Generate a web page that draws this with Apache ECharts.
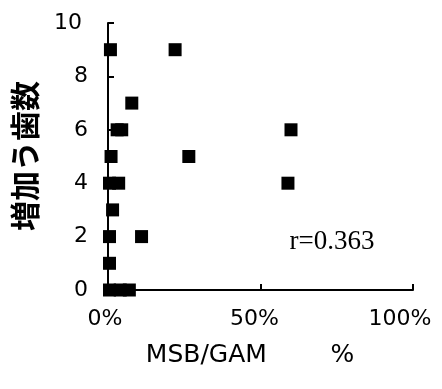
<!DOCTYPE html>
<html><head><meta charset="utf-8">
<script src="https://cdn.jsdelivr.net/npm/echarts@6/dist/echarts.min.js"></script>
<style>html,body{margin:0;padding:0;background:#fff}#c{width:442px;height:389px}</style>
</head><body><div id="c"></div>
<script>
// Data
const msbGamPct = [0.8, 22, 7.8, 3, 4.5, 60, 1, 26.5, 0.5, 3.5, 59, 1.5, 0.5, 11, 0.5, 0.5, 4, 7];
const increasedCaries = [9, 9, 7, 6, 6, 6, 5, 5, 4, 4, 4, 3, 2, 2, 1, 0, 0, 0];
const xTicks = [0, 50, 100];
const yTicks = [0, 2, 4, 6, 8, 10];
const xTitle = 'MSB/GAM        %';
const yTitle = '増加う歯数';
const rText = 'r=0.363';

const points = msbGamPct.map((v, i) => [v, increasedCaries[i]]);
const chart = echarts.init(document.getElementById('c'), null, {renderer: 'canvas'});
const tickFont = '"DejaVu Sans", sans-serif';
chart.setOption({
  animation: false,
  backgroundColor: '#fff',
  grid: {left: 108, right: 29, top: 23, bottom: 99},
  xAxis: {
    type: 'value', min: xTicks[0], max: xTicks[xTicks.length - 1], interval: 50,
    axisLine: {show: true, lineStyle: {color: '#000', width: 2}},
    axisTick: {show: true, inside: true, length: 6, lineStyle: {color: '#000', width: 2}},
    splitLine: {show: false},
    axisLabel: {
      margin: 18, color: '#000', fontFamily: tickFont, fontSize: 22,
      formatter: v => v === 0 ? '{a|0%}' : v === 50 ? '{b|50%}' : '{c|100%}',
      rich: {
        a: {fontFamily: tickFont, fontSize: 22, color: '#000', padding: [0, 6, 0, 0]},
        b: {fontFamily: tickFont, fontSize: 22, color: '#000', padding: [0, 12, 0, 0]},
        c: {fontFamily: tickFont, fontSize: 22, color: '#000', padding: [0, 26, 0, 0]}
      }
    }
  },
  yAxis: {
    type: 'value', min: yTicks[0], max: yTicks[yTicks.length - 1], interval: 2,
    axisLine: {show: true, lineStyle: {color: '#000', width: 2}},
    axisTick: {show: true, inside: true, length: 6, lineStyle: {color: '#000', width: 2}},
    splitLine: {show: false},
    axisLabel: {
      margin: 20, color: '#000', fontFamily: tickFont, fontSize: 22,
      formatter: v => v === 10 ? '{t|10}' : String(v),
      rich: {t: {fontFamily: tickFont, fontSize: 22, color: '#000', padding: [0, 6, 0, 0]}}
    }
  },
  series: [{
    type: 'scatter', data: points, symbol: 'rect', symbolSize: 13,
    itemStyle: {color: '#000', opacity: 1},
    emphasis: {disabled: true}
  }],
  graphic: [
    {type: 'text', x: 250, y: 355, style: {text: xTitle, fontFamily: tickFont, fontSize: 25, fill: '#000', align: 'center', verticalAlign: 'middle'}},
    {type: 'text', x: 25, y: 156, rotation: Math.PI / 2, style: {text: yTitle, fontFamily: '"Noto Sans CJK JP", sans-serif', fontWeight: 'bold', fontSize: 30, fill: '#000', align: 'center', verticalAlign: 'middle'}},
    {type: 'text', x: 332, y: 242, style: {text: rText, fontFamily: '"Liberation Serif", serif', fontSize: 27, fill: '#000', align: 'center', verticalAlign: 'middle'}}
  ]
});
</script></body></html>
